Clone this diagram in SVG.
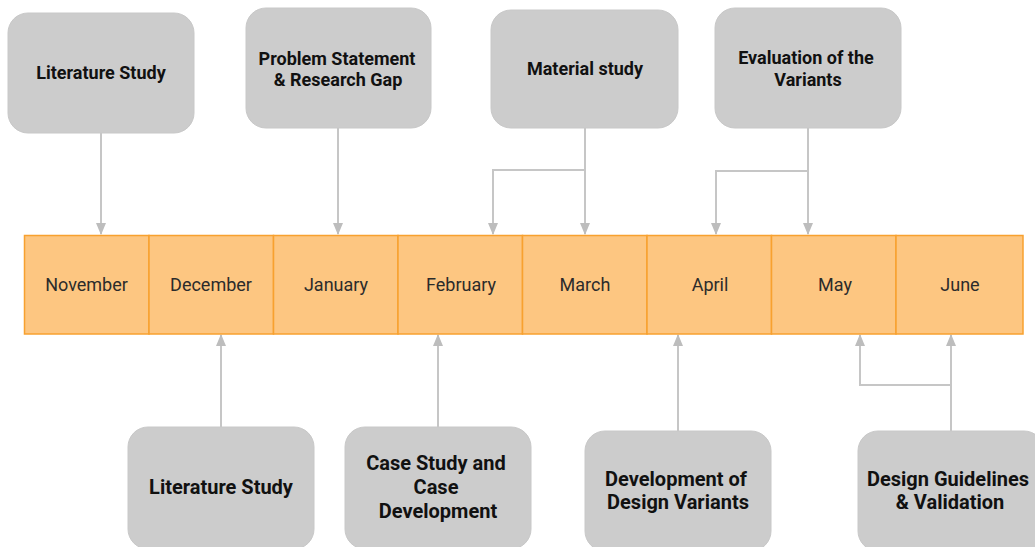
<svg xmlns="http://www.w3.org/2000/svg" width="1035" height="547" viewBox="0 0 1035 547">
<style>
.box{fill:#cccccc;stroke:#c8c8c8;stroke-width:1}
.lbl{font-family:Roboto,"Liberation Sans",sans-serif;font-weight:700;font-size:18px;fill:#111;text-anchor:middle}
.lbl.big{font-size:20px}
.cell{fill:#fdc681;stroke:#f8a12f;stroke-width:1.5}
.mon{font-family:Roboto,"Liberation Sans",sans-serif;font-size:18px;fill:#2b2b2b;text-anchor:middle}
.con{fill:none;stroke:#c6c6c6;stroke-width:2}
</style>
<defs>
<marker id="ah" viewBox="0 0 12 10" refX="11" refY="5" markerWidth="12" markerHeight="10" markerUnits="userSpaceOnUse" orient="auto">
<path d="M0,0 L12,5 L0,10 Z" fill="#bdbdbd"/>
</marker>
</defs>
<rect width="1035" height="547" fill="#ffffff"/>
<g id="connectors">
<path class="con" d="M101,133 V234" marker-end="url(#ah)"/>
<path class="con" d="M338,128 V234" marker-end="url(#ah)"/>
<path class="con" d="M585,128 V234" marker-end="url(#ah)"/>
<path class="con" d="M585,170 H493 V234" marker-end="url(#ah)"/>
<path class="con" d="M808,128 V234" marker-end="url(#ah)"/>
<path class="con" d="M808,171 H716 V234" marker-end="url(#ah)"/>
<path class="con" d="M221,427 V335" marker-end="url(#ah)"/>
<path class="con" d="M438,427 V335" marker-end="url(#ah)"/>
<path class="con" d="M678,431 V335" marker-end="url(#ah)"/>
<path class="con" d="M951,431 V335" marker-end="url(#ah)"/>
<path class="con" d="M951,385 H860 V335" marker-end="url(#ah)"/>
</g>
<g id="timeline">
<g id="m-nov"><rect class="cell" x="24.5" y="235.5" width="124.5" height="98.5"/><text class="mon" x="86.5" y="291">November</text></g>
<g id="m-dec"><rect class="cell" x="149" y="235.5" width="124.5" height="98.5"/><text class="mon" x="211" y="291">December</text></g>
<g id="m-jan"><rect class="cell" x="273.5" y="235.5" width="124.5" height="98.5"/><text class="mon" x="336" y="291">January</text></g>
<g id="m-feb"><rect class="cell" x="398" y="235.5" width="124.5" height="98.5"/><text class="mon" x="461" y="291">February</text></g>
<g id="m-mar"><rect class="cell" x="522.5" y="235.5" width="124.5" height="98.5"/><text class="mon" x="585" y="291">March</text></g>
<g id="m-apr"><rect class="cell" x="647" y="235.5" width="124.5" height="98.5"/><text class="mon" x="710" y="291">April</text></g>
<g id="m-may"><rect class="cell" x="771.5" y="235.5" width="124.5" height="98.5"/><text class="mon" x="835" y="291">May</text></g>
<g id="m-jun"><rect class="cell" x="896" y="235.5" width="127" height="98.5"/><text class="mon" x="960" y="291">June</text></g>
</g>
<g id="n-lit-top"><rect class="box" x="8" y="13" width="186" height="120" rx="20"/><text class="lbl" x="101" y="79">Literature Study</text></g>
<g id="n-problem"><rect class="box" x="246" y="8" width="185" height="120" rx="20"/><text class="lbl" x="337" y="65">Problem Statement</text><text class="lbl" x="338" y="86">&amp; Research Gap</text></g>
<g id="n-material"><rect class="box" x="491" y="10" width="187" height="118" rx="20"/><text class="lbl" x="585" y="75">Material study</text></g>
<g id="n-evaluation"><rect class="box" x="715" y="8" width="186" height="120" rx="20"/><text class="lbl" x="806" y="64">Evaluation of the</text><text class="lbl" x="808" y="86">Variants</text></g>
<g id="n-lit-bottom"><rect class="box" x="128" y="427" width="186" height="122" rx="20"/><text class="lbl big" x="221" y="494">Literature Study</text></g>
<g id="n-case"><rect class="box" x="345" y="427" width="186" height="122" rx="20"/><text class="lbl big" x="436" y="470">Case Study and</text><text class="lbl big" x="436" y="494">Case</text><text class="lbl big" x="438" y="518">Development</text></g>
<g id="n-devvar"><rect class="box" x="585" y="431" width="186" height="120" rx="20"/><text class="lbl big" x="676" y="486">Development of</text><text class="lbl big" x="678" y="509">Design Variants</text></g>
<g id="n-guidelines"><rect class="box" x="858" y="431" width="186" height="120" rx="20"/><text class="lbl big" x="948" y="486">Design Guidelines</text><text class="lbl big" x="950" y="509">&amp; Validation</text></g>
</svg>
